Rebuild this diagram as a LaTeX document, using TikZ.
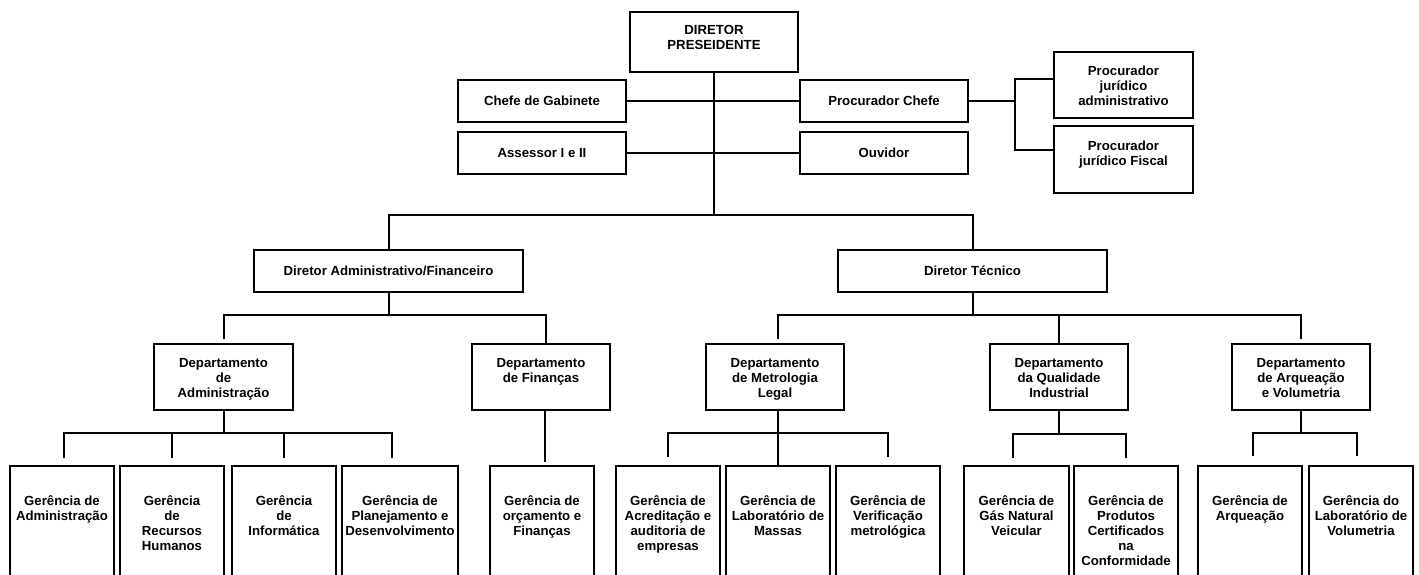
\documentclass[tikz,border=0pt]{standalone}
\usepackage{fontspec}
\setmainfont{Liberation Sans}
\begin{document}
\begin{tikzpicture}[x=1pt,y=-1pt,
  line width=2pt,
  box/.style={draw, line width=2pt, inner sep=0pt, anchor=north west},
  lbl/.style={align=center, inner sep=0pt, font=\bfseries\fontsize{13.2}{15}\selectfont},
]
\useasboundingbox (0,0) rectangle (1419,575);
\clip (0,0) rectangle (1419,575);

% box: name, left, top, width, height
\newcommand\orgbox[5]{\node[box, minimum width=#4pt, minimum height=#5pt] (#1) at (#2,#3) {};}
% text hanging from the top of a box: name, gap above the 12pt strut, text
\newcommand\toptext[3]{\node[lbl, anchor=north] (#1-t) at ([yshift=-#2pt]#1.north) {\rule{0pt}{12pt}#3};}
% text centred in a box
\newcommand\midtext[2]{\node[lbl] (#1-t) at (#1.center) {#2};}

% top management
\orgbox{dp}{629}{11}{168}{60}
\toptext{dp}{11}{DIRETOR\\PRESEIDENTE}
\orgbox{chefe}{457}{79}{168}{42}
\midtext{chefe}{Chefe de Gabinete}
\orgbox{proc}{799}{79}{168}{42}
\midtext{proc}{Procurador Chefe}
\orgbox{asse}{457}{131}{168}{42}
\midtext{asse}{Assessor I e II}
\orgbox{ouv}{799}{131}{168}{42}
\midtext{ouv}{Ouvidor}
\orgbox{pja}{1053}{51}{139}{66}
\toptext{pja}{12}{Procurador\\jurídico\\administrativo}
\orgbox{pjf}{1053}{125}{139}{67}
\toptext{pjf}{12}{Procurador\\jurídico Fiscal}

% directors
\orgbox{da}{253}{249}{269}{42}
\midtext{da}{Diretor Administrativo/Financeiro}
\orgbox{dt}{837}{249}{269}{42}
\midtext{dt}{Diretor Técnico}

% departments
\orgbox{dadm}{153}{343}{139}{66}
\toptext{dadm}{11}{Departamento\\de\\Administração}
\orgbox{dfin}{471}{343}{138}{66}
\toptext{dfin}{11}{Departamento\\de Finanças}
\orgbox{dmet}{705}{343}{138}{66}
\toptext{dmet}{11}{Departamento\\de Metrologia\\Legal}
\orgbox{dqual}{989}{343}{138}{66}
\toptext{dqual}{11}{Departamento\\da Qualidade\\Industrial}
\orgbox{darq}{1231}{343}{138}{66}
\toptext{darq}{11}{Departamento\\de Arqueação\\e Volumetria}

% managements
\orgbox{g1}{9}{465}{104}{130}
\toptext{g1}{27}{Gerência de\\Administração}
\orgbox{g2}{119}{465}{104}{130}
\toptext{g2}{27}{Gerência\\de\\Recursos\\Humanos}
\orgbox{g3}{231}{465}{104}{130}
\toptext{g3}{27}{Gerência\\de\\Informática}
\orgbox{g4}{341}{465}{116}{130}
\toptext{g4}{27}{Gerência de\\Planejamento e\\Desenvolvimento}
\orgbox{g5}{489}{465}{104}{130}
\toptext{g5}{27}{Gerência de\\orçamento e\\Finanças}
\orgbox{g6}{615}{465}{104}{130}
\toptext{g6}{27}{Gerência de\\Acreditação e\\auditoria de\\empresas}
\orgbox{g7}{725}{465}{104}{130}
\toptext{g7}{27}{Gerência de\\Laboratório de\\Massas}
\orgbox{g8}{835}{465}{104}{130}
\toptext{g8}{27}{Gerência de\\Verificação\\metrológica}
\orgbox{g9}{963}{465}{105}{130}
\toptext{g9}{27}{Gerência de\\Gás Natural\\Veicular}
\orgbox{g10}{1073}{465}{104}{130}
\toptext{g10}{27}{Gerência de\\Produtos\\Certificados\\na\\Conformidade}
\orgbox{g11}{1197}{465}{104}{130}
\toptext{g11}{27}{Gerência de\\Arqueação}
\orgbox{g12}{1308}{465}{104}{130}
\toptext{g12}{27}{Gerência do\\Laboratório de\\Volumetria}

% connectors: top level
\coordinate (j0) at (dp.south |- 0,215);
\draw (dp.south) -- (j0);
\draw (chefe.east) -- (proc.west);
\draw (asse.east) -- (ouv.west);
\draw (da.north) |- (j0) -| (dt.north);
\coordinate (pjt) at (1015,79);
\coordinate (pjb) at (1015,150);
\coordinate (pb) at (pjt |- proc.east);
\draw (proc.east) -- (pb);
\draw (pja.west |- pjt) -- (pjt) -- (pjb) -- (pjf.west |- pjb);

% administrative / financial director
\coordinate (ja) at (da.south |- 0,315);
\draw (da.south) -- (ja);
\draw ([yshift=4pt]dadm.north) |- (ja) -| ([xshift=5pt]dfin.north);

% technical director
\coordinate (jt) at (dt.south |- 0,315);
\draw (dt.south) -- (jt);
\draw ([xshift=3pt,yshift=4pt]dmet.north) |- (jt) -| ([yshift=4pt]darq.north);
\draw (dqual.north) -- (dqual.north |- jt);

% departments to managements
\coordinate (ba) at (dadm.south |- 0,433);
\draw (dadm.south) -- (ba);
\draw ([xshift=2pt,yshift=7pt]g1.north) |- (ba) -| ([xshift=-8pt,yshift=7pt]g4.north);
\draw ([yshift=7pt]g2.north) -- (g2.north |- ba);
\draw ([yshift=7pt]g3.north) -- (g3.north |- ba);

\coordinate (bf) at ([xshift=4pt]dfin.south);
\draw (bf) -- ([yshift=3pt]bf |- g5.north);

\coordinate (bm) at (g7.north |- 0,433);
\draw (dmet.south -| bm) -- (g7.north);
\draw ([yshift=8pt]g6.north) |- (bm) -| ([yshift=8pt]g8.north);

\coordinate (bq) at (dqual.south |- 0,434);
\draw (dqual.south) -- (bq);
\draw ([xshift=-4pt,yshift=7pt]g9.north) |- (bq) -| ([yshift=7pt]g10.north);

\coordinate (br) at (darq.south |- 0,433);
\draw (darq.south) -- (br);
\draw ([xshift=3pt,yshift=9pt]g11.north) |- (br) -| ([xshift=-4pt,yshift=9pt]g12.north);
\end{tikzpicture}
\end{document}
